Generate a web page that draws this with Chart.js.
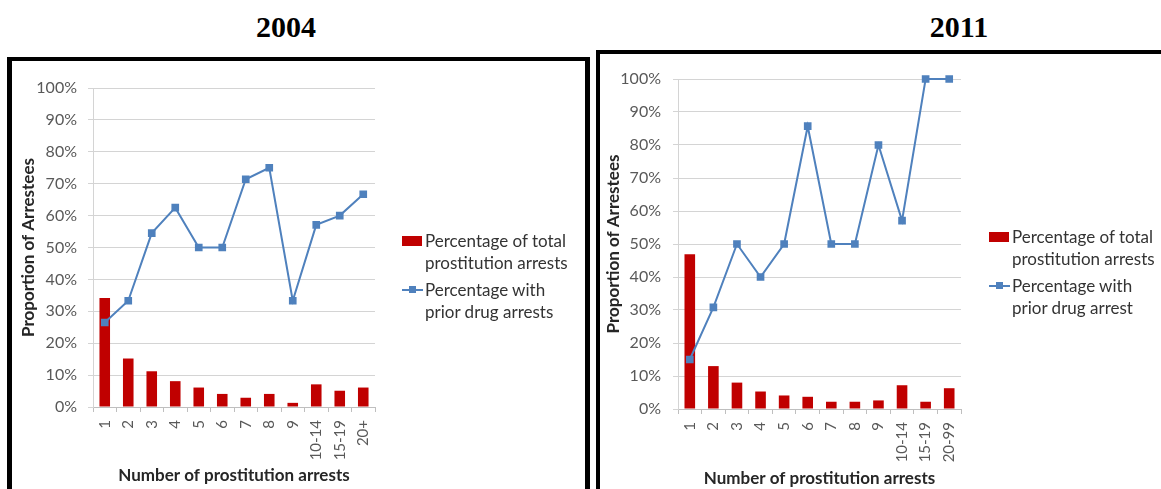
<!DOCTYPE html>
<html>
<head>
<meta charset="utf-8">
<script src="https://cdn.jsdelivr.net/npm/chart.js@4.4.1/dist/chart.umd.min.js"></script>
<style>
  body { margin: 0; width: 1161px; height: 489px; overflow: hidden; background: #fff; position: relative; font-family: Lato, sans-serif; }
  .year { position: absolute; top: 10px; font-family: "Liberation Serif", serif; font-weight: bold; font-size: 30px; color: #000; text-align: center; width: 120px; }
  .box { position: absolute; box-sizing: border-box; border: solid #000; height: 600px; }
  .box canvas { position: absolute; left: 0; top: 0; }
  .legend { position: absolute; font-size: 17px; color: #333; line-height: 22px; }
  .legend .item { position: relative; padding-left: 23px; margin-bottom: 5px; white-space: nowrap; }
  .legend .swatch { position: absolute; left: 0; top: 6px; width: 20px; height: 10px; background: #C00000; }
  .legend .lineKey { position: absolute; left: 0; top: 10px; width: 21px; height: 2px; background: #4F81BD; }
  .legend .lineKey::after { content: ""; position: absolute; left: 7px; top: -3px; width: 7px; height: 7px; background: #4F81BD; }
</style>
</head>
<body>
<div class="year" style="left:226px;">2004</div>
<div class="year" style="left:899px;">2011</div>

<div class="box" style="left:7px; top:57px; width:583px; border-width:4px 5px 0 5px;">
  <canvas id="chart2004"></canvas>
</div>
<div class="box" style="left:596px; top:50px; width:600px; border-width:4px 0 0 4px;">
  <canvas id="chart2011"></canvas>
</div>

<div class="legend" id="legend2004" style="left:402px; top:230px;"></div>
<div class="legend" id="legend2011" style="left:989px; top:226px;"></div>

<script>
// Categories (number of prostitution arrests)
const categories2004 = ['1', '2', '3', '4', '5', '6', '7', '8', '9', '10-14', '15-19', '20+'];
const categories2011 = ['1', '2', '3', '4', '5', '6', '7', '8', '9', '10-14', '15-19', '20-99'];

// Percentage of total prostitution arrests (bars)
const totalArrests2004 = [34.2, 15.2, 11.2, 8.1, 6.1, 4.1, 2.9, 4.1, 1.3, 7.1, 5.1, 6.1];
const totalArrests2011 = [46.9, 13, 8, 5.3, 4.1, 3.7, 2.2, 2.2, 2.6, 7.2, 2.2, 6.3];

// Percentage with prior drug arrests (line)
const priorDrug2004 = [26.5, 33.3, 54.5, 62.5, 50, 50, 71.4, 75, 33.3, 57.1, 60, 66.7];
const priorDrug2011 = [15, 30.8, 50, 40, 50, 85.7, 50, 50, 80, 57.1, 100, 100];

// Legend text
const barLegend = ['Percentage of total', 'prostitution arrests'];
const lineLegend2004 = ['Percentage with', 'prior drug arrests'];
const lineLegend2011 = ['Percentage with', 'prior drug arrest'];

const barColor = '#C00000';
const lineColor = '#4F81BD';
const gridColor = '#d4d4d4';
const tickColor = '#595959';

// Build one chart; lay holds the canvas size and the axis box sizes
function makeChart(id, cats, bars, line, lay) {
    const canvas = document.getElementById(id);
    canvas.width = lay.w;
    canvas.height = lay.h;
    canvas.style.width = lay.w + 'px';
    canvas.style.height = lay.h + 'px';

    return new Chart(canvas.getContext('2d'), {
        type: 'bar',
        data: {
            labels: cats,
            datasets: [
                {
                    type: 'line',
                    label: 'Percentage with prior drug arrests',
                    data: line,
                    borderColor: lineColor,
                    backgroundColor: lineColor,
                    borderWidth: 2,
                    pointStyle: 'rect',
                    pointRadius: 4,
                    pointBackgroundColor: lineColor,
                    pointBorderColor: lineColor,
                    tension: 0,
                    clip: false,
                    order: 0
                },
                {
                    type: 'bar',
                    label: 'Percentage of total prostitution arrests',
                    data: bars,
                    backgroundColor: barColor,
                    barPercentage: 0.45,
                    categoryPercentage: 1,
                    order: 1
                }
            ]
        },
        options: {
            responsive: false,
            animation: false,
            layout: { padding: { left: 0, top: lay.top, right: lay.right, bottom: 0 } },
            plugins: {
                legend: { display: false },
                tooltip: { enabled: true }
            },
            scales: {
                x: {
                    offset: true,
                    grid: { offset: true, drawOnChartArea: false, color: '#bfbfbf', tickLength: 5 },
                    border: { color: '#bfbfbf' },
                    ticks: {
                        color: tickColor,
                        font: { family: 'Lato', size: 15 },
                        maxRotation: 90,
                        minRotation: 90,
                        padding: 8,
                        autoSkip: false
                    },
                    title: {
                        display: true,
                        text: 'Number of prostitution arrests',
                        color: '#262626',
                        font: { family: 'Lato', size: 17, weight: 'bold' },
                        padding: { top: 0, bottom: lay.xTitlePad }
                    },
                    afterFit: scale => { scale.height = lay.xAxisH; }
                },
                y: {
                    min: 0,
                    max: 100,
                    ticks: {
                        stepSize: 10,
                        color: tickColor,
                        font: { family: 'Lato', size: 16 },
                        padding: lay.yTickPad,
                        callback: v => v + '%'
                    },
                    grid: { color: gridColor, tickLength: 5 },
                    border: { color: gridColor },
                    title: {
                        display: true,
                        text: 'Proportion of Arrestees',
                        color: '#262626',
                        font: { family: 'Lato', size: 17, weight: 'bold' },
                        padding: { top: lay.yTitlePad, bottom: 0 }
                    },
                    afterFit: scale => { scale.width = lay.yAxisW; }
                }
            }
        }
    });
}

// Legend beside each chart
function makeLegend(id, barLines, lineLines) {
    const el = document.getElementById(id);
    el.innerHTML = `
        <div class="item"><span class="swatch"></span>${barLines.join('<br>')}</div>
        <div class="item"><span class="lineKey"></span>${lineLines.join('<br>')}</div>
    `;
}

makeChart('chart2004', categories2004, totalArrests2004, priorDrug2004,
    { w: 572, h: 428, top: 27, right: 209, xAxisH: 82, yAxisW: 81, xTitlePad: 3, yTitlePad: 6, yTickPad: 11 });
makeChart('chart2011', categories2011, totalArrests2011, priorDrug2011,
    { w: 561, h: 435, top: 25, right: 200, xAxisH: 80, yAxisW: 78, xTitlePad: 0, yTitlePad: 3, yTickPad: 12 });

makeLegend('legend2004', barLegend, lineLegend2004);
makeLegend('legend2011', barLegend, lineLegend2011);
</script>
</body>
</html>
